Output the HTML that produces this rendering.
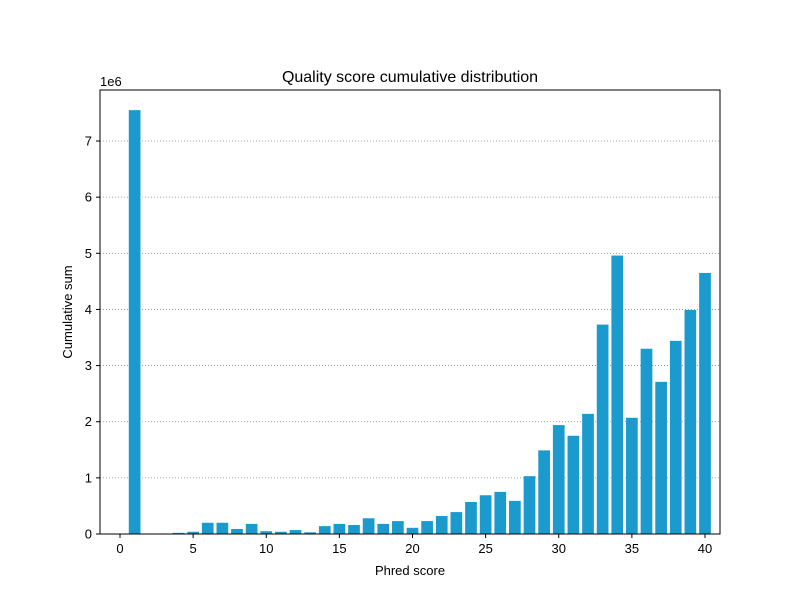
<!DOCTYPE html>
<html><head><meta charset="utf-8"><style>
body{margin:0;background:#fff;font-family:"Liberation Sans",sans-serif}
svg text{font-family:"Liberation Sans",sans-serif;fill:#000}
</style></head><body>
<svg id="chart" width="800" height="600">
<rect width="800" height="600" fill="#fff"/>
<g id="grid"></g><g id="bars"></g><g id="axes"></g>
<text x="410" y="82" font-size="16" text-anchor="middle">Quality score cumulative distribution</text>
<text x="410" y="575" font-size="13" text-anchor="middle">Phred score</text>
<text transform="translate(72,312) rotate(-90)" font-size="13" text-anchor="middle">Cumulative sum</text>
<text x="100" y="86" font-size="13">1e6</text>
</svg>
<script>
const scores=[0,1,2,3,4,5,6,7,8,9,10,11,12,13,14,15,16,17,18,19,20,21,22,23,24,25,26,27,28,29,30,31,32,33,34,35,36,37,38,39,40];
const counts=[0,7.55,0,0,0.02,0.04,0.20,0.20,0.09,0.18,0.05,0.04,0.07,0.03,0.14,0.18,0.16,0.28,0.18,0.23,0.11,0.23,0.32,0.39,0.57,0.69,0.75,0.59,1.03,1.49,1.94,1.75,2.14,3.73,4.96,2.07,3.30,2.71,3.44,3.99,4.65];
const xTicks=[0,5,10,15,20,25,30,35,40];
const yTicks=[0,1,2,3,4,5,6,7];
const NS="http://www.w3.org/2000/svg";
const L=100,R=720,T=90,B=534;
const x=v=>120+v*14.625;
const y=v=>534-v*56.14;
function mk(tag,attrs,parent){const e=document.createElementNS(NS,tag);for(const k in attrs)e.setAttribute(k,attrs[k]);parent.appendChild(e);return e;}
const grid=document.getElementById('grid'),bars=document.getElementById('bars'),axes=document.getElementById('axes');
yTicks.forEach(t=>{
 if(t>0){const g=mk('line',{x1:L,x2:R,y1:y(t),y2:y(t),stroke:'#888','stroke-width':0.8,'stroke-dasharray':'1,2'},grid);
 
 }
 const tk=mk('line',{x1:L-4,x2:L,y1:y(t),y2:y(t),stroke:'#000'},axes);
 
 
 const lb=mk('text',{x:L-8,y:y(t)+4.5,'font-size':13,'text-anchor':'end'},axes);lb.textContent=t;
 
 
});
scores.forEach((s,i)=>{
 const h=counts[i]*56.14;
 const r=mk('rect',{x:x(s)-5.85,y:y(counts[i]),width:11.7,height:h,fill:'#1b9acd'},bars);
 
 
});
xTicks.forEach(t=>{
 const tk=mk('line',{x1:x(t),x2:x(t),y1:B,y2:B+4,stroke:'#000'},axes);
 
 
 const lb=mk('text',{x:x(t),y:B+19,'font-size':13,'text-anchor':'middle'},axes);lb.textContent=t;
 
 
});
const fr=mk('rect',{x:L,y:T,width:R-L,height:B-T,fill:'none',stroke:'#000','stroke-width':1},axes);


</script>
</body></html>
